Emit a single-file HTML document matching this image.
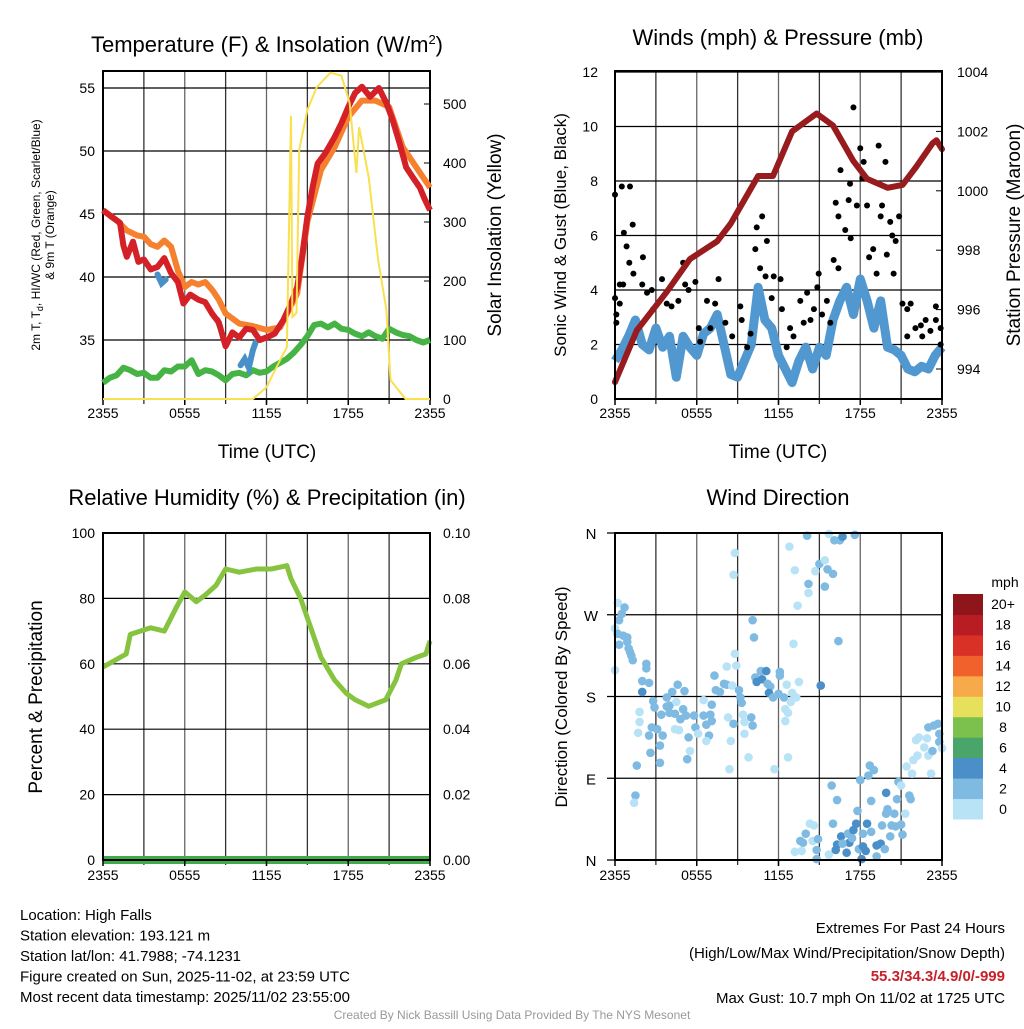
<!DOCTYPE html>
<html><head><meta charset="utf-8"><style>
body{margin:0;background:#fff;}
svg text{font-family:"Liberation Sans",sans-serif;fill:#000;}
</style></head><body>
<svg id="chart" width="1024" height="1024" xmlns="http://www.w3.org/2000/svg"></svg>
<script>
// ---------- DATA ----------
const xTickLabels = ["2355","0555","1155","1755","2355"];
const tHours = [0,0.6,1.25,1.5,1.75,2.2,2.6,3,3.5,4,4.5,5,5.5,5.9,6.4,7,7.5,8,8.5,9,9.5,10,10.5,11,11.5,12,12.6,13.25,13.8,14.25,14.6,15,15.4,15.75,16.3,17,17.5,18,18.5,19,19.6,20.25,20.8,21.25,21.8,22.25,22.8,23.25,23.6,24];
const tempRed = [45.3,44.8,44.3,42.5,41.6,42.8,41.2,41.4,40.6,40.8,41.5,40.3,39.6,37.9,38.6,38.2,38.0,37.1,36.4,34.5,35.6,35.2,35.9,35.8,35.0,35.2,35.5,36.6,37.9,39.2,41.5,44.8,47.2,49,49.8,51.1,52.2,53.5,54.6,55.1,54.3,55,53.8,52.5,50.5,48.7,47.8,47.1,46.2,45.3];
const t9Hours = [0,1,1.75,2.5,3,3.5,4,4.5,5,5.5,6,6.5,7,7.5,8,8.5,9,10,11,12,13,14.25,15,16,17,18,19,20,21,22,23,24];
const temp9m = [45.3,44.5,43.7,43.3,43.2,42.6,42.4,42.9,42.4,40.5,39.2,39.6,39.4,39.6,39,38.2,37.1,36.3,36.1,35.8,36,38.7,44.4,48.5,50.3,52.7,54,54,53.5,50.3,48.7,47.1];
const wcHours = [[4.0,4.3,4.6],[8.4,8.6],[10.1,10.4,10.7,11,11.2]];
const wcVals = [[40.2,39.5,39.8],[36.6,36.0],[33.0,33.5,32.8,34.2,34.8]];
const dewHours = [0,0.5,1,1.5,2,2.5,3,3.5,4,4.5,5,5.5,6,6.5,7,7.5,8,8.5,9,9.5,10,10.5,11,11.5,12,12.5,13,13.5,14,14.5,15,15.5,16,16.5,17,17.5,18,18.5,19,19.5,20,20.5,21,21.5,22,22.5,23,23.5,24];
const dewVals = [31.6,32.0,32.2,32.8,32.6,32.3,32.4,32.0,32,32.6,32.5,32.9,32.9,33.4,32.3,32.6,32.5,32.2,31.8,32.3,32.4,32.2,32.6,32.4,32.5,32.9,33.2,33.5,34,34.6,35.3,36.2,36.3,36.0,36.3,35.9,35.8,35.5,35.3,35.6,35.3,35.1,35.9,35.6,35.4,35.3,35,34.8,35];
const solHours = [0,11,12,13,13.5,13.8,13.9,14.2,14.4,15,15.7,16.7,17.5,18.1,18.6,18.8,19.5,20.2,20.8,21.1,22.2,24];
const solVals = [0,0,20,66,88,480,139,146,422,490,529,553,548,502,383,461,376,235,151,32,0,0];
const tempTicks = [35,40,45,50,55];
const solTicks = [0,100,200,300,400,500];
const windHours = [];
const windVals = [1.4,1.8,2.3,2.9,2.0,1.8,2.6,1.9,2.3,0.8,2.3,1.9,1.6,2.4,2.6,3.1,2.0,0.9,0.8,1.4,2.0,4.1,2.9,2.6,1.6,1.1,0.6,1.4,1.9,1.1,1.9,1.6,2.9,3.6,4.1,3.1,4.4,3.6,2.6,3.6,1.9,1.8,1.6,1.1,1.0,1.2,1.1,1.6,1.9];
for (let i=0;i<windVals.length;i++) windHours.push(i/2);
const gustIdx = [0,1,2.2,1.3,1.7,2.1,2.6,0.7,1.2,0,0.7,0.2,0.2,2.7,4.1,4,4.7,5.4,5.6,6.9,7.6,8.3,9.3,10,10.3,10.8,11.8,12.3,12.5,13.5,14,14.7,15.2,16.2,17.2,18.4,18.6,19.4,19.9,20.8,21.6,20.6,22.3,21.3,22.1,23.3,24.3,23,24.5,25.2,25.7,26.2,27.2,27.7,28.2,28.7,29.2,29.9,29.7,30.4,31.1,31.6,32.1,32.8,32.4,32.8,33.1,33.8,34.3,34.6,35,34.5,35.5,36,36.5,36.3,37,37.3,37.9,38.4,38.7,39.2,39.7,39,39.9,40.4,40.7,41.2,40.9,41.7,42.2,42.9,42.9,43.4,44.1,44.9,45.6,46.3,47.1,47.1,47.8,47.8,45.1];
const gustVals = [7.5,7.8,7.8,6.1,5.6,5.0,6.4,4.2,4.2,3.7,3.5,3.1,2.8,4.6,5.2,4.2,3.9,4.0,3.3,4.4,3.5,3.4,3.6,5.0,4.2,4.0,4.3,2.6,2.1,3.6,2.6,3.5,4.4,2.8,2.3,3.4,2.9,1.9,2.4,6.3,6.7,5.5,5.8,4.8,4.5,4.5,4.4,3.7,3.3,1.9,2.6,2.3,3.6,2.8,3.9,2.9,3.3,4.6,4.1,3.1,3.6,2.8,5.1,4.8,7.2,6.7,8.4,6.2,7.3,5.9,10.7,7.9,7.1,9.2,8.7,8.1,7.1,5.2,5.5,4.6,9.3,7.1,8.7,6.7,5.3,6.5,6.0,5.8,4.6,6.7,3.5,3.3,2.3,3.5,2.6,2.7,2.9,2.5,3.4,2.9,2.6,2.0,2.3];
const presHours = [0,1.6,3.8,5.5,7.5,8.5,10.5,11.6,13,14.8,16,17.5,18.5,20,21.1,22.1,23.3,23.6,24];
const presVals = [993.56,995.3,996.6,997.7,998.3,998.9,1000.5,1000.5,1002,1002.6,1002.2,1001,1000.4,1000.1,1000.2,1000.8,1001.6,1001.7,1001.4];
const windTicks = [0,2,4,6,8,10,12];
const presTicks = [994,996,998,1000,1002,1004];
const rhHours = [0,1.7,2,3.5,4.5,5.35,6,6.85,7.5,8.3,9,10,11.25,12.35,13.5,13.8,14.5,15.25,16,17,17.85,18.5,19.5,20.75,21.5,21.9,23,23.7,24];
const rhVals = [59,63,69,71,70,77,82,79,81,84,89,88,89,89,90,86,80,71,62,55,51,49,47,49,55,60,62,63,67];
const precipVals = [0,0];
const rhTicks = [0,20,40,60,80,100];
const precipTicks = ["0.00","0.02","0.04","0.06","0.08","0.10"];
const dirHours = [0.2,0.7,0.5,0.3,0,0.2,0.6,0.9,0.9,0.3,1,1.1,1.2,1.3,0,2.3,2.3,2,2.5,2,2.8,2.9,1.8,1.8,1.7,1.6,1.5,1.4,2.7,3.1,2.5,3.5,3.3,2.6,3.3,3.4,3.8,4,4,4.4,3.8,4.2,4.6,5.1,4.5,5,4.8,5.2,4.4,4.7,5.4,5.5,5.3,5.8,5.9,6.1,6.5,7,6.7,7.1,6.9,6.7,6.5,7.1,7.3,7.4,7.7,8,8.2,8.6,8.2,8.8,8.9,9.1,9.2,9.3,9.4,9.5,9.5,10,10.1,9.8,8.3,8.7,8.5,8.4,8.8,8.7,10.1,10.2,10.3,10.7,11.1,10.4,10.8,11.2,11.4,11.3,11.6,12,12.1,12.1,12.4,12.6,12.5,12.7,12.5,12.9,13,13.3,13.5,12.7,11.7,13.1,12.8,13.2,13.4,14.1,14.2,14.2,14.7,15,15.4,15.6,16,15.4,15.7,16.1,16.5,16.7,17.6,16.4,15.1,15.9,16.3,16,14.3,14.6,14,13.6,13.8,14.5,14.9,13.2,13.7,14.8,14.8,15.7,16.2,16.3,16.6,17,17.2,16.7,17.1,17.5,17.7,17.4,17.9,18.2,18.4,18.1,18.2,18.5,18.8,17.8,18,18.7,19,18.6,18.8,19.2,19.5,19.8,19.2,19.6,20,19.9,19.9,20.5,20.3,20.6,21,21.1,20.2,20.8,21,21.3,20.7,21.6,21.7,21.4,21.8,21.9,22.1,22.3,22.7,22.9,22.2,23,23.2,23.3,23,23.4,23.7,23.8,23.8,24];
const dirVals = [283,278,271,264,255,249,247,245,240,237,233,229,225,220,209,216,211,197,195,185,175,168,163,152,140,104,71,63,146,144,137,137,126,118,107,160,169,170,162,161,179,185,193,186,174,166,155,159,144,143,135,120,111,159,146,139,159,160,149,153,137,131,176,171,203,187,185,194,193,192,213,227,214,187,179,173,160,152,139,157,148,113,157,150,131,100,338,314,264,245,201,208,208,196,199,194,191,184,179,183,207,203,179,193,166,162,153,174,184,179,196,113,100,238,345,319,280,357,304,294,318,326,330,320,315,301,359,352,352,356,358,241,192,82,66,40,40,38,29,21,19,21,23,9,10,11,1,6,11,17,26,8,19,18,29,33,40,24,12,15,10,1,29,40,31,54,88,104,99,93,65,16,18,12,4,38,56,51,74,51,38,37,39,28,26,86,82,51,67,71,67,103,95,110,132,135,124,134,115,115,95,120,146,148,150,139,130,123];
const dirSpeeds = [1,3,3,3,1,3,3,3,3,3,3,3,3,3,1,3,3,3,3,5,3,3,1,1,1,3,3,1,3,3,3,3,3,3,3,3,3,3,3,3,3,3,3,3,1,3,3,3,1,1,3,1,3,3,3,1,3,3,3,3,3,1,1,3,3,3,3,3,3,1,1,1,1,3,3,3,1,1,1,3,3,1,1,3,1,1,1,1,3,3,3,3,5,5,5,3,3,5,3,3,3,3,3,1,1,1,1,1,1,1,1,1,1,1,1,1,1,3,3,1,1,3,1,3,3,3,1,3,3,5,3,3,5,3,3,3,1,1,3,3,3,1,3,1,1,3,3,1,5,5,5,5,5,3,3,5,5,3,3,5,5,5,3,5,3,3,3,3,3,3,3,5,5,3,3,3,3,3,5,3,3,3,3,3,3,3,1,1,3,3,3,1,1,1,1,1,1,1,1,1,1,3,3,3,3,3,3,1];
const dirTickLabels = ["N","E","S","W","N"];
const cbarLabels = ["0","2","4","6","8","10","12","14","16","18","20+"];
const cbarColors = ["#b8e3f7","#7fbae3","#4a8fc7","#4aa56b","#7cc14e","#e6e05a","#f6aa4a","#f0612b","#da3127","#b81d24","#8e1519"];

// ---------- DRAW ----------
const NS="http://www.w3.org/2000/svg";
const svg=document.getElementById('chart');
function el(tag,attrs,parent){const e=document.createElementNS(NS,tag);for(const k in attrs)e.setAttribute(k,attrs[k]);(parent||svg).appendChild(e);return e;}
function txt(s,x,y,size,anchor,parent,extra){const t=el('text',Object.assign({x:x,y:y,'font-size':size,'text-anchor':anchor||'middle'},extra||{}),parent);t.textContent=s;return t;}
function grp(name){const g=el('g',{});return g;}
function panel(name,x0,x1,y0,y1){
  const g=grp(name);
  for(let k=1;k<8;k++){const x=x0+(x1-x0)*k/8;el('line',{x1:x,x2:x,y1:y0,y2:y1+5,stroke:k%2?'#333':'#666','stroke-width':1.3},g);}
  return g;
}
function hgrid(g,x0,x1,ys){ys.forEach(y=>el('line',{x1:x0,x2:x1,y1:y,y2:y,stroke:'#000','stroke-width':1.2},g));}
function box(g,x0,x1,y0,y1){el('rect',{x:x0,y:y0,width:x1-x0,height:y1-y0,fill:'none',stroke:'#000','stroke-width':2},g);
  for(let k=0;k<=8;k+=2){const x=x0+(x1-x0)*k/8;el('line',{x1:x,x2:x,y1:y1,y2:y1+6,stroke:'#000','stroke-width':1.5},g);}}
function xlabels(g,x0,x1,y){xTickLabels.forEach((s,k)=>{txt(s,x0+(x1-x0)*k/4,y,14,'middle',g);});}
function pathFrom(xs,ys,fx,fy){let d='';for(let i=0;i<xs.length;i++){if(ys[i]==null)continue;d+=(d?'L':'M')+fx(xs[i]).toFixed(1)+','+fy(ys[i]).toFixed(1);}return d;}

// ===== Panel 1 =====
(function(){
  const x0=103,x1=430,y0=71,y1=399;
  const X=h=>x0+h/24*(x1-x0);
  const YT=t=>340-(t-35)*12.6;
  const YS=s=>399-s*0.59;
  const g=panel('temperature-panel',x0,x1,y0,y1);
  hgrid(g,x0,x1,tempTicks.map(YT));
  const lines=grp('temperature-series');
  let p;
  p=el('path',{d:pathFrom(dewHours,dewVals,X,YT),fill:'none',stroke:'#45b445','stroke-width':6,'stroke-linejoin':'round'},lines);
  
  p=el('path',{d:pathFrom(t9Hours,temp9m,X,YT),fill:'none',stroke:'#f5812f','stroke-width':6,'stroke-linejoin':'round'},lines);
  
  for(let s=0;s<wcHours.length;s++){p=el('path',{d:pathFrom(wcHours[s],wcVals[s],X,YT),fill:'none',stroke:'#4a90c8','stroke-width':6,'stroke-linecap':'round'},lines);
    }
  p=el('path',{d:pathFrom(tHours,tempRed,X,YT),fill:'none',stroke:'#d42027','stroke-width':6,'stroke-linejoin':'round'},lines);
  
  p=el('path',{d:pathFrom(solHours,solVals,X,YS),fill:'none',stroke:'#f9e04f','stroke-width':2},lines);
  
  box(g,x0,x1,y0,y1);
  tempTicks.forEach(t=>txt(String(t),95,YT(t)+5,14,'end',g));
  solTicks.forEach(s=>{txt(String(s),443,YS(s)+5,14,'start',g);el('line',{x1:x1-6,x2:x1,y1:YS(s),y2:YS(s),stroke:'#000'},g);});
  xlabels(g,x0,x1,418);
  let t=txt('Time (UTC)',267,458,19,'middle',g);
  t=el('text',{x:267,y:52,'font-size':22,'text-anchor':'middle'},g);t.innerHTML='Temperature (F) &amp; Insolation (W/m<tspan dy="-8" font-size="13">2</tspan><tspan dy="8">)</tspan>';
  
  t=el('text',{x:0,y:0,'font-size':12,'text-anchor':'middle',transform:'translate(40,235) rotate(-90)'},g);
  t.innerHTML='2m T, T<tspan dy="3" font-size="9">d</tspan><tspan dy="-3">, HI/WC (Red, Green, Scarlet/Blue)</tspan>';
  
  txt('& 9m T (Orange)',0,0,12,'middle',g,{transform:'translate(54,235) rotate(-90)'});
  t=txt('Solar Insolation (Yellow)',0,0,19,'middle',g,{transform:'translate(501,235) rotate(-90)'});
  
})();

// ===== Panel 2 =====
(function(){
  const x0=615,x1=942,y0=71,y1=399;
  const X=h=>x0+h/24*(x1-x0);
  const YW=w=>399-w*27.25;
  const YP=p=>369-(p-994)*29.7;
  const g=panel('winds-panel',x0,x1,y0,y1);
  hgrid(g,x0,x1,windTicks.map(YW));
  let p=el('path',{d:pathFrom(windHours,windVals,X,YW),fill:'none',stroke:'#5298d0','stroke-width':9,'stroke-linejoin':'round'},g);
  
  const gd=grp('gust-points');g.appendChild(gd);
  for(let i=0;i<gustIdx.length;i++){const c=el('circle',{cx:X(gustIdx[i]/2),cy:YW(gustVals[i]),r:3,fill:'#000'},gd);
    }
  p=el('path',{d:pathFrom(presHours,presVals,X,YP),fill:'none',stroke:'#981b1e','stroke-width':6,'stroke-linejoin':'round','stroke-linecap':'round'},g);
  
  box(g,x0,x1,y0,y1);
  windTicks.forEach(w=>txt(String(w),598,YW(w)+5,14,'end',g));
  presTicks.forEach(v=>{txt(String(v),957,YP(v)+5,14,'start',g);el('line',{x1:x1-6,x2:x1,y1:YP(v),y2:YP(v),stroke:'#000'},g);});
  xlabels(g,x0,x1,418);
  let t=txt('Time (UTC)',778,458,19,'middle',g);
  t=txt('Winds (mph) & Pressure (mb)',778,45,22,'middle',g);
  t=txt('Sonic Wind & Gust (Blue, Black)',0,0,17,'middle',g,{transform:'translate(566,235) rotate(-90)'});
  
  t=txt('Station Pressure (Maroon)',0,0,19,'middle',g,{transform:'translate(1020,235) rotate(-90)'});
  
})();

// ===== Panel 3 =====
(function(){
  const x0=103,x1=430,y0=533,y1=860;
  const X=h=>x0+h/24*(x1-x0);
  const Y=v=>860-v*3.27;
  const YP=v=>860-v*3270;
  const g=panel('humidity-panel',x0,x1,y0,y1);
  hgrid(g,x0,x1,rhTicks.map(Y));
  let p=el('path',{d:pathFrom(rhHours,rhVals,X,Y),fill:'none',stroke:'#86c440','stroke-width':5,'stroke-linejoin':'round'},g);
  
  p=el('path',{d:pathFrom([0,24],precipVals,X,YP),fill:'none',stroke:'#3fab4a','stroke-width':8},g);
  
  box(g,x0,x1,y0,y1);
  rhTicks.forEach(v=>txt(String(v),95,Y(v)+5,14,'end',g));
  precipTicks.forEach(s=>txt(s,443,YP(parseFloat(s))+5,14,'start',g));
  xlabels(g,x0,x1,880);
  let t=txt('Relative Humidity (%) & Precipitation (in)',267,505,22,'middle',g);
  t=txt('Percent & Precipitation',0,0,19,'middle',g,{transform:'translate(42,697) rotate(-90)'});
  
})();

// ===== Panel 4 =====
(function(){
  const x0=615,x1=942,y0=533,y1=860;
  const X=h=>x0+h/24*(x1-x0);
  const Y=d=>860-d/360*(y1-y0);
  const g=panel('wind-direction-panel',x0,x1,y0,y1);
  hgrid(g,x0-8,x1,[0,90,180,270,360].map(Y));
  const gd=grp('direction-points');g.appendChild(gd);
  for(let i=0;i<dirHours.length;i++){
    const bin=Math.min(10,Math.floor(dirSpeeds[i]/2));
    const c=el('circle',{cx:X(dirHours[i]),cy:Y(dirVals[i]),r:4.3,fill:cbarColors[bin]},gd);
    
  }
  box(g,x0,x1,y0,y1);
  dirTickLabels.forEach((s,k)=>txt(s,591,Y(k*90)+6,15,'middle',g));
  xlabels(g,x0,x1,880);
  let t=txt('Wind Direction',778,505,22,'middle',g);
  t=txt('Direction (Colored By Speed)',0,0,17,'middle',g,{transform:'translate(567,697) rotate(-90)'});
  
  const cb=grp('speed-colorbar');
  const by0=594,by1=819,bh=(by1-by0)/cbarColors.length;
  cbarColors.forEach((c,k)=>{const r=el('rect',{x:953,y:by1-(k+1)*bh,width:30,height:bh+0.5,fill:c},cb);
    
    txt(cbarLabels[k],1003,by1-(k+0.5)*bh+5,14,'middle',cb);});
  txt('mph',1005,587,14,'middle',cb);
})();

// ===== Footer =====
(function(){
  const g=grp('station-info');
  ["Location: High Falls","Station elevation: 193.121 m","Station lat/lon: 41.7988; -74.1231","Figure created on Sun, 2025-11-02, at 23:59 UTC","Most recent data timestamp: 2025/11/02 23:55:00"]
   .forEach((s,k)=>txt(s,20,920+k*20.5,15,'start',g));
  const e=grp('extremes-summary');
  txt('Extremes For Past 24 Hours',1005,933,15,'end',e);
  txt('(High/Low/Max Wind/Precipitation/Snow Depth)',1005,958,15,'end',e);
  txt('55.3/34.3/4.9/0/-999',1005,981,15,'end',e,{'font-weight':'bold',style:'fill:#c8202a'});
  txt('Max Gust: 10.7 mph On 11/02 at 1725 UTC',1005,1003,15,'end',e);
  const c=txt('Created By Nick Bassill Using Data Provided By The NYS Mesonet',512,1019,12,'middle',svg,{style:'fill:#999'});
  
})();
</script>
</body></html>
